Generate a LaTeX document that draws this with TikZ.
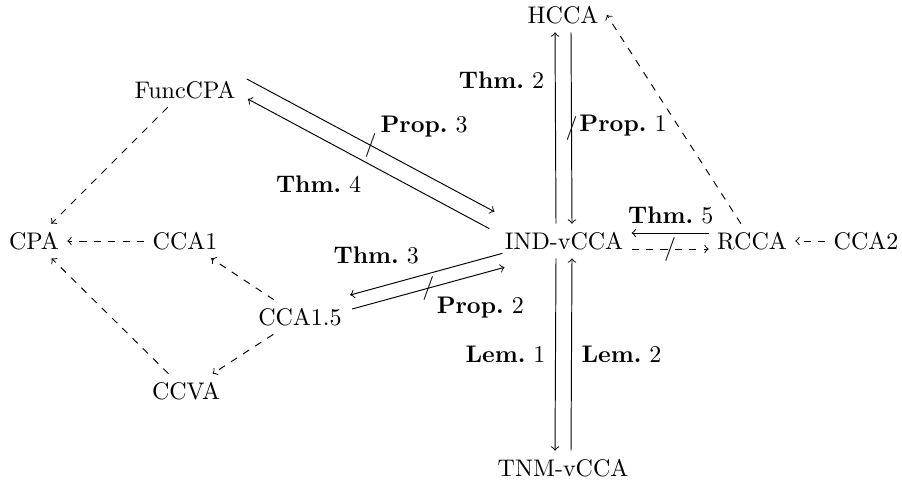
\documentclass[tikz,border=0pt]{standalone}
\begin{document}
\begin{tikzpicture}[x=0.4167pt,y=-0.4167pt,
  every node/.style={},
  st/.style={node font=\normalsize},
  imp/.style={->},
  dimp/.style={->,dashed},
  lab/.style={midway,anchor=base},
  strike/.style={midway,inner sep=0pt,outer sep=0pt}]
\useasboundingbox (0,0) rectangle (902,483);
% nodes
\node (HCCA) at (563,15) {HCCA};
\node (FuncCPA) at (185,90) {FuncCPA};
\node (IND) at (564,241) {IND-vCCA};
\node (RCCA) at (752,241) {RCCA};
\node (CCAt) at (866,241) {CCA2};
\node (CPA) at (34,241) {CPA};
\node (CCAo) at (185,241) {CCA1};
\node (CCAof) at (300,317) {CCA1.5};
\node (CCVA) at (186,391) {CCVA};
\node (TNM) at (563,468) {TNM-vCCA};
% vertical pairs
\draw[imp] ([xshift=-8*0.4167pt]IND.north) -- ([xshift=-8*0.4167pt]HCCA.south)
  node[lab,shift={(-54,-40)}] (l1) {\textbf{Thm.}~2};
\draw[imp] ([xshift=8*0.4167pt]HCCA.south) -- ([xshift=8*0.4167pt]IND.north)
  node[strike] (s1) {/}
  node[lab,shift={(51.5,3)}] (l2) {\textbf{Prop.}~1};
\draw[imp] ([xshift=-8*0.4167pt]IND.south) -- ([xshift=-8*0.4167pt]TNM.north)
  node[lab,shift={(-50,7.5)}] (l3) {\textbf{Lem.}~1};
\draw[imp] ([xshift=8*0.4167pt]TNM.north) -- ([xshift=8*0.4167pt]IND.south)
  node[lab,shift={(50,7.5)}] (l4) {\textbf{Lem.}~2};
% RCCA pair
\draw[imp] ([yshift=8*0.4167pt]RCCA.west) -- ([yshift=8*0.4167pt]IND.east)
  node[lab,shift={(0.5,-10)}] (l5) {\textbf{Thm.}~5};
\draw[dimp] ([yshift=-8*0.4167pt]IND.east) -- ([yshift=-8*0.4167pt]RCCA.west)
  node[strike] (s2) {/};
% FuncCPA pair
\draw[imp] ([shift={(3,-11)}]FuncCPA.east) -- ([shift={(-2,-12)}]IND.north west)
  node[strike] (s3) {/}
  node[lab,shift={(53.5,-13)}] (l6) {\textbf{Prop.}~3};
\draw[imp] ([shift={(-7,5)}]IND.north west) -- ([shift={(4,9)}]FuncCPA.east)
  node[lab,shift={(-50,28.5)}] (l7) {\textbf{Thm.}~4};
% CCA1.5 pair
\draw[imp] ([shift={(6,-5)}]IND.south west) -- ([shift={(0,-22)}]CCAof.east)
  node[lab,shift={(-50,-10.5)}] (l8) {\textbf{Thm.}~3};
\draw[imp] ([shift={(2,-8)}]CCAof.east) -- ([shift={(8,9)}]IND.south west)
  node[strike] (s4) {/}
  node[lab,shift={(52,25.5)}] (l9) {\textbf{Prop.}~2};
% dashed implications
\draw[dimp] (RCCA) -- (HCCA.east);
\draw[dimp] (CCAt) -- (RCCA);
\draw[dimp] (FuncCPA) -- (CPA);
\draw[dimp] (CCAo) -- (CPA);
\draw[dimp] (CCAof) -- (CCAo);
\draw[dimp] (CCAof) -- (CCVA);
\draw[dimp] (CCVA) -- (CPA);
\end{tikzpicture}
\end{document}
